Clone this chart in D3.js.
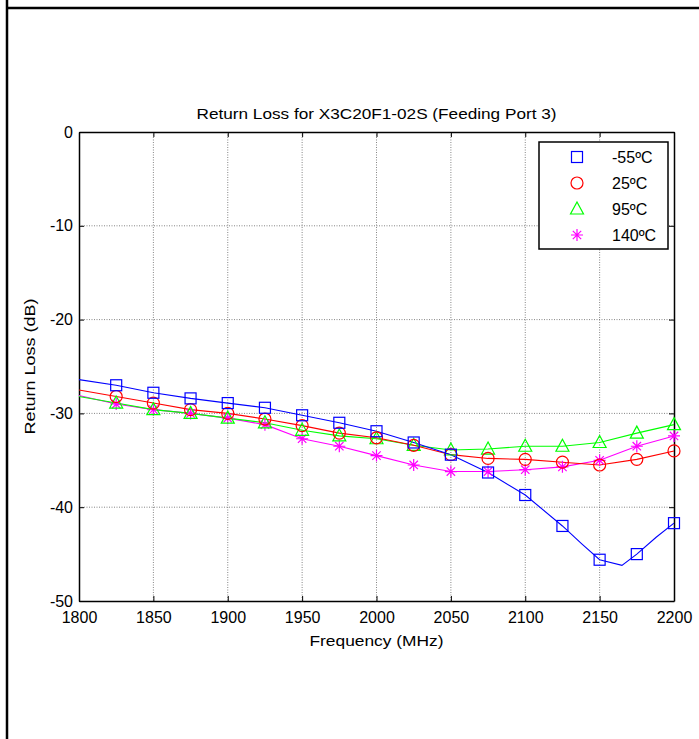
<!DOCTYPE html>
<html>
<head>
<meta charset="utf-8">
<script src="https://cdn.jsdelivr.net/npm/d3@7"></script>
<style>
  body { margin: 0; background: #fff; }
  text { font-family: "Liberation Sans", Arial, sans-serif; fill: #000; }
</style>
</head>
<body>
<div id="chart"></div>
<script>
// frequency points (MHz), one marker every 25 MHz
const freqs = [1800, 1825, 1850, 1875, 1900, 1925, 1950, 1975, 2000,
               2025, 2050, 2075, 2100, 2125, 2150, 2175, 2200];
// return loss (dB)
const rlM55 = [-26.4, -27.0, -27.8, -28.4, -28.9, -29.4, -30.2, -31.0, -31.9,
               -33.1, -34.4, -36.3, -38.7, -42.0, -45.6, -45.0, -41.7];
const rl25  = [-27.5, -28.2, -28.9, -29.6, -30.0, -30.6, -31.3, -32.1, -32.6,
               -33.4, -34.4, -34.8, -34.9, -35.2, -35.5, -34.9, -34.0];
const rl95  = [-28.2, -28.9, -29.6, -30.0, -30.5, -31.0, -31.8, -32.4, -32.7,
               -33.4, -33.9, -33.8, -33.5, -33.5, -33.1, -32.1, -31.2];
const rl140 = [-28.1, -29.0, -29.6, -30.0, -30.5, -31.2, -32.7, -33.5, -34.5,
               -35.5, -36.2, -36.2, -36.0, -35.7, -35.0, -33.5, -32.4];
// extra line points of the -55C curve between markers (the dip)
const dipFreqs = [2138, 2165, 2188];
const dipM55 = [-43.9, -46.2, -43.2];

const xTicks = [1800, 1850, 1900, 1950, 2000, 2050, 2100, 2150, 2200];
const yTicks = [0, -10, -20, -30, -40, -50];
const labels = ["-55ºC", "25ºC", "95ºC", "140ºC"];
const colors = ["#0000ff", "#ff0000", "#00ff00", "#ff00ff"];
const shapes = ["square", "circle", "triangle", "star"];

const W = 699, H = 739;
const margin = { top: 132, right: 25, bottom: 138, left: 79 };
const width = W - margin.left - margin.right;
const height = H - margin.top - margin.bottom;

const svg = d3.select("#chart").append("svg")
  .attr("width", W).attr("height", H);

// outer frame lines
svg.append("line").attr("x1", 7).attr("x2", 7).attr("y1", 0).attr("y2", H)
  .attr("stroke", "#000").attr("stroke-width", 2.5);
svg.append("line").attr("x1", 7).attr("x2", W).attr("y1", 8).attr("y2", 8)
  .attr("stroke", "#000").attr("stroke-width", 2.5);

const g = svg.append("g")
  .attr("transform", "translate(" + margin.left + "," + margin.top + ")");

const x = d3.scaleLinear().domain([1800, 2200]).range([0, width]);
const y = d3.scaleLinear().domain([-50, 0]).range([height, 0]);

// grid
g.selectAll(".gx").data(xTicks.slice(1, -1)).enter().append("line")
  .attr("x1", d => x(d)).attr("x2", d => x(d)).attr("y1", 0).attr("y2", height)
  .attr("stroke", "#666").attr("stroke-width", 0.8).attr("stroke-dasharray", "1,1.5");
g.selectAll(".gy").data(yTicks.slice(1, -1)).enter().append("line")
  .attr("x1", 0).attr("x2", width).attr("y1", d => y(d)).attr("y2", d => y(d))
  .attr("stroke", "#666").attr("stroke-width", 0.8).attr("stroke-dasharray", "1,1.5");

// axes, ticks inside like matlab
const fmt = d => String(d);
g.append("g").attr("transform", "translate(0," + height + ")")
  .call(d3.axisBottom(x).tickValues(xTicks).tickSize(-5).tickSizeOuter(0).tickPadding(11).tickFormat(fmt));
g.append("g")
  .call(d3.axisLeft(y).tickValues(yTicks).tickSize(-5).tickSizeOuter(0).tickPadding(6).tickFormat(fmt));
g.append("g").call(d3.axisTop(x).tickValues(xTicks).tickSize(-5).tickSizeOuter(0).tickFormat(""));
g.append("g").attr("transform", "translate(" + width + ",0)")
  .call(d3.axisRight(y).tickValues(yTicks).tickSize(-5).tickSizeOuter(0).tickFormat(""));
g.selectAll(".domain").attr("stroke", "#000").attr("stroke-width", 1.5);
g.selectAll(".tick line").attr("stroke", "#000");
g.selectAll(".tick text").style("font-size", "16px")
  .style("font-family", "'Liberation Sans', Arial, sans-serif");

// series
const series = [rlM55, rl25, rl95, rl140].map((vals, i) => ({
  name: labels[i], color: colors[i], shape: shapes[i],
  pts: freqs.map((f, j) => ({ f: f, v: vals[j] }))
}));
series[0].line = series[0].pts.concat(dipFreqs.map((f, j) => ({ f: f, v: dipM55[j] })))
  .sort((a, b) => a.f - b.f);

const line = d3.line().x(d => x(d.f)).y(d => y(d.v));

function marker(sel, shape, color) {
  if (shape === "square") {
    sel.append("rect").attr("x", -5.5).attr("y", -5.5).attr("width", 11).attr("height", 11)
      .attr("fill", "none").attr("stroke", color).attr("stroke-width", 1.2);
  } else if (shape === "circle") {
    sel.append("circle").attr("r", 6)
      .attr("fill", "none").attr("stroke", color).attr("stroke-width", 1.2);
  } else if (shape === "triangle") {
    sel.append("path").attr("d", "M0,-7L6.5,5L-6.5,5Z")
      .attr("fill", "none").attr("stroke", color).attr("stroke-width", 1.2);
  } else {
    sel.append("path").attr("d", "M-6,0H6M0,-6V6M-4.2,-4.2L4.2,4.2M-4.2,4.2L4.2,-4.2")
      .attr("fill", "none").attr("stroke", color).attr("stroke-width", 1.2);
  }
}

// draw lines in order, markers after
series.slice().reverse().forEach(s => {
  g.append("path").datum(s.line || s.pts).attr("d", line)
    .attr("fill", "none").attr("stroke", s.color).attr("stroke-width", 1.1);
});
series.slice().reverse().forEach(s => {
  g.selectAll(null).data(s.pts.slice(1)).enter().append("g")
    .attr("transform", d => "translate(" + x(d.f) + "," + y(d.v) + ")")
    .each(function() { marker(d3.select(this), s.shape, s.color); });
});

// title and labels (matlab text is a bit wide, so stretch to measured length)
svg.append("text").attr("x", margin.left + width / 2).attr("y", 119)
  .attr("text-anchor", "middle").style("font-size", "15.5px")
  .attr("textLength", 360).attr("lengthAdjust", "spacingAndGlyphs")
  .text("Return Loss for X3C20F1-02S (Feeding Port 3)");
svg.append("text").attr("x", margin.left + width / 2).attr("y", 646)
  .attr("text-anchor", "middle").style("font-size", "15.5px")
  .attr("textLength", 134).attr("lengthAdjust", "spacingAndGlyphs")
  .text("Frequency (MHz)");
svg.append("text").attr("transform", "translate(35," + (margin.top + height / 2) + ") rotate(-90)")
  .attr("text-anchor", "middle").style("font-size", "15.5px")
  .attr("textLength", 136).attr("lengthAdjust", "spacingAndGlyphs")
  .text("Return Loss (dB)");

// legend
const legend = g.append("g").attr("transform", "translate(" + (539 - margin.left) + "," + (142 - margin.top) + ")");
legend.append("rect").attr("width", 129).attr("height", 107)
  .attr("fill", "#fff").attr("stroke", "#000").attr("stroke-width", 1.5);
series.forEach((s, i) => {
  const row = legend.append("g").attr("transform", "translate(38," + (15 + i * 26) + ")");
  marker(row, s.shape, s.color);
  row.append("text").attr("x", 35).attr("y", 6).style("font-size", "16px").text(s.name);
});
</script>
</body>
</html>
